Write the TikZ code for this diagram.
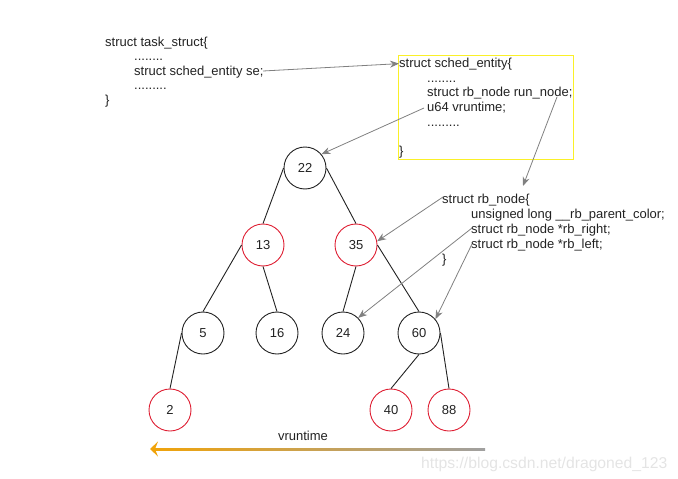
\documentclass[tikz,border=0pt]{standalone}
\usepackage{fontspec}
\setmainfont{Liberation Sans}
\usetikzlibrary{arrows.meta}
\definecolor{ink}{RGB}{34,34,34}
\definecolor{redring}{RGB}{222,30,50}
\definecolor{ptr}{RGB}{128,128,128}
\definecolor{boxline}{RGB}{250,240,40}
\definecolor{flowA}{RGB}{240,163,10}
\definecolor{flowB}{RGB}{160,160,160}
\definecolor{mark}{RGB}{228,228,228}
\begin{document}
\begin{tikzpicture}[x=1pt,y=-1pt,
  code/.style={anchor=base west,inner sep=0pt,font=\fontsize{13}{15}\selectfont,text=ink},
  key/.style={circle,draw=ink,line width=0.9pt,minimum size=42pt,inner sep=0pt,
              font=\fontsize{13}{15}\selectfont,text=ink},
  redkey/.style={key,draw=redring},
  edge/.style={draw=ink,line width=0.9pt},
  pointer/.style={draw=ptr,line width=0.8pt,-{Stealth[length=9pt,width=7pt]}}]
\useasboundingbox (0,0) rectangle (678,479);

% task_struct
\node[code] (ts)  at (105,46)   {struct task\_struct\{};
\node[code] (ts1) at (134,60.5) {........};
\node[code] (se)  at (134,75)   {struct sched\_entity se;};
\node[code] (ts2) at (134,89.5) {.........};
\node[code] (ts3) at (105,104)  {\}};

% sched_entity
\draw[boxline,line width=0.9pt] (398,55) rectangle (573,159);
\node[code] (sch)  at (399,67)  {struct sched\_entity\{};
\node[code] (sc1)  at (427,82)  {........};
\node[code] (rn)   at (427,96.5){struct rb\_node run\_node;};
\node[code] (vr)   at (427,111.5){u64 vruntime;};
\node[code] (sc2)  at (427,126) {.........};
\node[code] (sc3)  at (399,155) {\}};

% rb_node
\node[code] (rbn) at (442,203) {struct rb\_node\{};
\node[code] (pc)  at (471,218) {unsigned long \_\_rb\_parent\_color;};
\node[code] (rr)  at (471,233) {struct rb\_node *rb\_right;};
\node[code] (rl)  at (471,248) {struct rb\_node *rb\_left;};
\node[code] (rb3) at (442,263) {\}};

% red-black tree
\node[key]    (n22) at (305,168) {22};
\node[redkey] (n13) at (263,245) {13};
\node[redkey] (n35) at (356,245) {35};
\node[key]    (n5)  at (203,333) {5};
\node[key]    (n16) at (277,333) {16};
\node[key]    (n24) at (343,333) {24};
\node[key]    (n60) at (419,333) {60};
\node[redkey] (n2)  at (170,410) {2};
\node[redkey] (n40) at (391,410) {40};
\node[redkey] (n88) at (449,410) {88};

\draw[edge] (n22.west) -- (n13.north);
\draw[edge] (n22.east) -- (n35.north);
\draw[edge] (n13.west) -- (n5.north);
\draw[edge] (n13.south) -- (n16.north);
\draw[edge] (n35.south) -- (n24.north);
\draw[edge] (n35.east) -- (n60.north);
\draw[edge] (n5.west) -- (n2.north);
\draw[edge] (n60.south) -- (n40.north);
\draw[edge] (n60.east) -- (n88.north);

% pointers between the structures and the tree
\coordinate (seEnd)  at (263,71);
\coordinate (vrStart) at (424,108);
\coordinate (rnEnd)  at (557,97);
\coordinate (rbTop)  at (523,186);
\coordinate (rbnStart) at (443,197);
\coordinate (rrStart) at (472,228);
\coordinate (rlStart) at (472,244);
\draw[pointer] (seEnd) -- (sch.west);
\draw[pointer] (vrStart) -- (n22.40);
\draw[pointer] (rnEnd) -- (rbTop);
\draw[pointer] (rbnStart) -- (n35.10);
\draw[pointer] (rrStart) -- (n24.45);
\draw[pointer] (rlStart) -- (n60.40);

% vruntime axis
\coordinate (axL) at (152,449);
\coordinate (axR) at (485,449);
\shade[left color=flowA,right color=flowB] ([yshift=-1pt]axL) rectangle ([yshift=1pt]axR);
\fill[flowA] (150,449) -- (158,441.5) -- (155,449) -- (158,456.5) -- cycle;
\node[code,anchor=base] (vt) at (303,440) {vruntime};

\node[code,text=mark,font=\fontsize{15.7}{17}\selectfont] (wm) at (421,468) {https://blog.csdn.net/dragoned\_123};
\end{tikzpicture}
\end{document}
